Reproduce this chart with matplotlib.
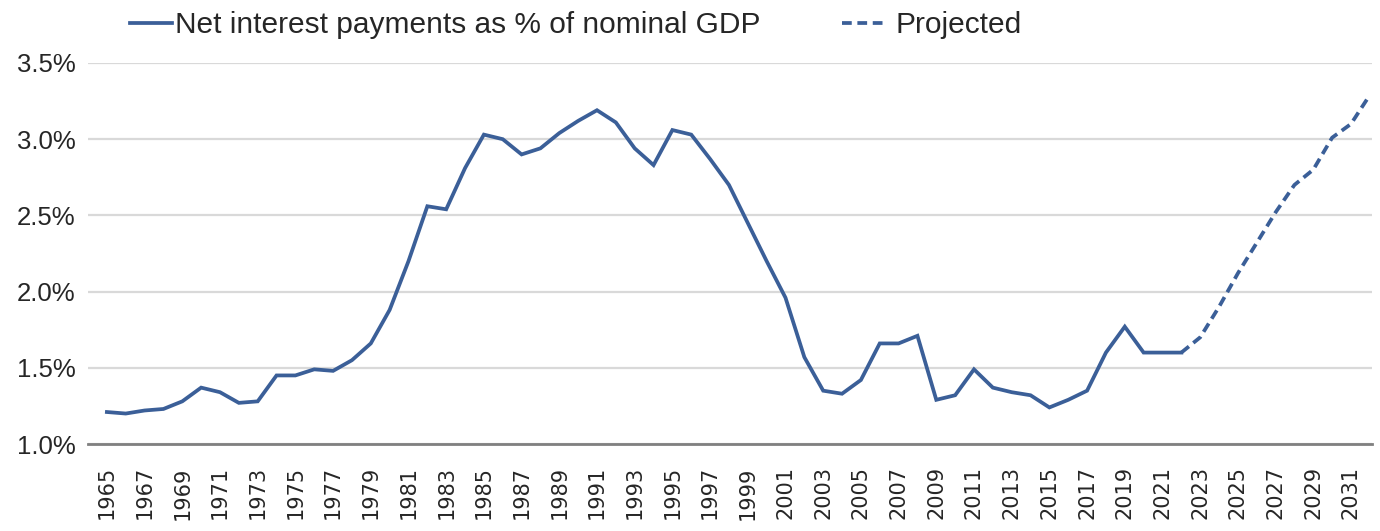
import matplotlib
matplotlib.use("Agg")
import matplotlib.pyplot as plt
from matplotlib.ticker import FuncFormatter

# Net interest payments, % of nominal GDP (actual)
years = list(range(1965, 2023))
interest = [
    1.21, 1.20, 1.22, 1.23, 1.28, 1.37, 1.34, 1.27, 1.28, 1.45,
    1.45, 1.49, 1.48, 1.55, 1.66, 1.88, 2.20, 2.56, 2.54, 2.81,
    3.03, 3.00, 2.90, 2.94, 3.04, 3.12, 3.19, 3.11, 2.94, 2.83,
    3.06, 3.03, 2.87, 2.70, 2.45, 2.20, 1.96, 1.57, 1.35, 1.33,
    1.42, 1.66, 1.66, 1.71, 1.29, 1.32, 1.49, 1.37, 1.34, 1.32,
    1.24, 1.29, 1.35, 1.60, 1.77, 1.60, 1.60, 1.60,
]

# Projection, starting from the last actual year
proj_years = list(range(2022, 2033))
projected = [1.60, 1.70, 1.90, 2.12, 2.32, 2.52, 2.70, 2.80, 3.01, 3.10, 3.29]

tick_years = list(range(1965, 2032, 2))
y_ticks = [1.0, 1.5, 2.0, 2.5, 3.0, 3.5]

blue = "#3b5f98"
sans = ["Liberation Sans", "DejaVu Sans"]

fig = plt.figure(figsize=(13.8, 5.31), dpi=100)
ax = fig.add_axes([0.0638, 0.1638, 0.9302, 0.7176])

ax.plot(years, interest, color=blue, lw=2.7, solid_joinstyle="miter",
        label="Net interest payments as % of nominal GDP")
ax.plot(proj_years, projected, color=blue, lw=2.7, dashes=(2.6, 1.5),
        label="Projected")

ax.set_xlim(1964.0, 2032.1)
ax.set_ylim(1.0, 3.5)
ax.set_yticks(y_ticks)
ax.yaxis.set_major_formatter(FuncFormatter(lambda v, p: f"{v:.1f}%"))
ax.set_xticks(tick_years)
ax.set_xticklabels([str(y) for y in tick_years], rotation=90,
                   fontsize=15, family="DejaVu Sans", color="#262626")
for lab in ax.get_yticklabels():
    lab.set_fontsize(18.5)
    lab.set_family(sans)
    lab.set_color("#262626")

ax.tick_params(axis="both", length=0)
ax.tick_params(axis="y", pad=9)
ax.tick_params(axis="x", pad=16)

ax.grid(axis="y", color="#d9d9d9", lw=1.6)
ax.set_axisbelow(True)
for side in ["top", "right", "left"]:
    ax.spines[side].set_visible(False)
ax.spines["bottom"].set_color("#808080")
ax.spines["bottom"].set_linewidth(2)

leg = ax.legend(loc="center left", bbox_to_anchor=(130 / 1380, 1 - 25 / 531),
                bbox_transform=fig.transFigure, ncol=2, frameon=False,
                prop={"family": sans, "size": 21.5}, handlelength=1.4,
                handletextpad=0.1, columnspacing=2.75, borderpad=0,
                borderaxespad=0)
for t in leg.get_texts():
    t.set_color("#262626")
# a little space between the dashed handle and its label
leg.get_texts()[1].set_position((8, 0))

fig.savefig("out.png", dpi=100, facecolor="white")
